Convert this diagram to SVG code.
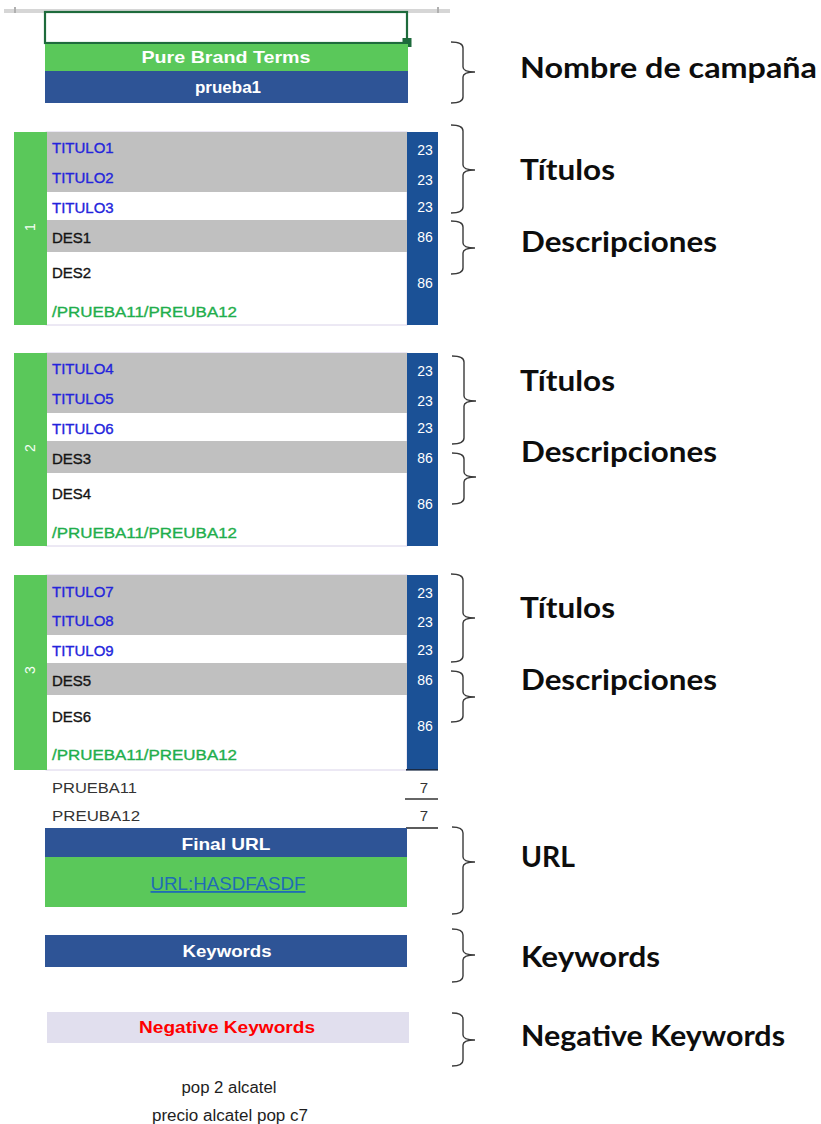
<svg xmlns="http://www.w3.org/2000/svg" width="821" height="1124" viewBox="0 0 821 1124">
  <style>
    .cell { font-family: "Liberation Sans", Arial, sans-serif; font-size: 15px; stroke-width: 0.35; }
    .title { fill: #2424dc; stroke: #2424dc; }
    .desc { fill: #141414; stroke: #141414; }
    .path { fill: #1fae4c; stroke: #1fae4c; }
    .num { font-family: "Liberation Sans", Arial, sans-serif; font-size: 14px; fill: #ffffff; text-anchor: middle; }
    .side { font-family: "Liberation Sans", Arial, sans-serif; font-size: 14px; fill: #f4fff4; text-anchor: middle; }
    .hdr { font-family: "Liberation Sans", Arial, sans-serif; font-weight: bold; font-size: 17px; fill: #ffffff; text-anchor: middle; }
    .label { font-family: Lato, "Open Sans", sans-serif; font-weight: 700; font-size: 29px; fill: #0d0d0d; }
    .brace { fill: none; stroke: #3a3a3a; stroke-width: 1.4; }
    .green { fill: #5ac85a; }
    .navy { fill: #2e5496; }
    .numcol { fill: #1b5196; }
    .grey { fill: #c0c0c0; }
    .plain { font-family: "Liberation Sans", Arial, sans-serif; font-size: 15px; fill: #333333; }
  </style>

  <rect width="821" height="1124" fill="#ffffff"/>

  <!-- sheet header strip with selected cell -->
  <g id="header-cell">
    <rect x="4" y="9" width="446" height="4" fill="#d6d6d6"/>
    <rect x="14" y="7" width="2" height="6" fill="#b0b0b0"/>
    <rect x="437" y="7" width="2" height="6" fill="#b0b0b0"/>
    <rect x="45" y="12" width="362" height="31" fill="#ffffff" stroke="#1e6b3c" stroke-width="2.2"/>
    <rect x="402.5" y="38" width="9" height="9" fill="#1e6b3c"/>
  </g>

  <!-- campaign name -->
  <g id="campaign">
    <rect x="45" y="44" width="363" height="27" class="green"/>
    <text x="226" y="63" class="hdr" textLength="169" lengthAdjust="spacingAndGlyphs">Pure Brand Terms</text>
    <rect x="45" y="71" width="363" height="32" class="navy"/>
    <text x="228" y="93" class="hdr" font-size="18">prueba1</text>
  </g>

  <!-- ad group 1 -->
  <g id="group-1">
    <rect x="46" y="132" width="361" height="193" fill="#ffffff" stroke="#d9d2e9" stroke-width="1"/>
    <rect x="46" y="132" width="361" height="60" class="grey"/>
    <rect x="46" y="220" width="362" height="32" class="grey"/>
    <rect x="14" y="132" width="33" height="193" class="green"/>
    <rect x="407" y="132" width="31" height="193" class="numcol"/>
    <text transform="translate(35,227) rotate(-90)" x="0" y="0" class="side">1</text>
    <text x="52" y="153" class="cell title">TITULO1</text>
    <text x="52" y="183" class="cell title">TITULO2</text>
    <text x="52" y="213" class="cell title">TITULO3</text>
    <text x="52" y="243" class="cell desc">DES1</text>
    <text x="52" y="278" class="cell desc">DES2</text>
    <text x="52" y="317" class="cell path" textLength="185" lengthAdjust="spacingAndGlyphs">/PRUEBA11/PREUBA12</text>
    <text x="425" y="155" class="num">23</text>
    <text x="425" y="185" class="num">23</text>
    <text x="425" y="212" class="num">23</text>
    <text x="425" y="242" class="num">86</text>
    <text x="425" y="288" class="num">86</text>
  </g>

  <!-- ad group 2 -->
  <g id="group-2" transform="translate(0,221)">
    <rect x="46" y="132" width="361" height="193" fill="#ffffff" stroke="#d9d2e9" stroke-width="1"/>
    <rect x="46" y="132" width="361" height="60" class="grey"/>
    <rect x="46" y="220" width="362" height="32" class="grey"/>
    <rect x="14" y="132" width="33" height="193" class="green"/>
    <rect x="407" y="132" width="31" height="193" class="numcol"/>
    <text transform="translate(35,227) rotate(-90)" x="0" y="0" class="side">2</text>
    <text x="52" y="153" class="cell title">TITULO4</text>
    <text x="52" y="183" class="cell title">TITULO5</text>
    <text x="52" y="213" class="cell title">TITULO6</text>
    <text x="52" y="243" class="cell desc">DES3</text>
    <text x="52" y="278" class="cell desc">DES4</text>
    <text x="52" y="317" class="cell path" textLength="185" lengthAdjust="spacingAndGlyphs">/PRUEBA11/PREUBA12</text>
    <text x="425" y="155" class="num">23</text>
    <text x="425" y="185" class="num">23</text>
    <text x="425" y="212" class="num">23</text>
    <text x="425" y="242" class="num">86</text>
    <text x="425" y="288" class="num">86</text>
  </g>

  <!-- ad group 3 -->
  <g id="group-3" transform="translate(0,443)">
    <rect x="46" y="132" width="361" height="195" fill="#ffffff" stroke="#d9d2e9" stroke-width="1"/>
    <rect x="46" y="132" width="361" height="60" class="grey"/>
    <rect x="46" y="220" width="362" height="32" class="grey"/>
    <rect x="14" y="132" width="33" height="195" class="green"/>
    <rect x="407" y="132" width="31" height="195" class="numcol"/>
    <rect x="406" y="326" width="32" height="1.6" fill="#1a2a44"/>
    <text transform="translate(35,227) rotate(-90)" x="0" y="0" class="side">3</text>
    <text x="52" y="154" class="cell title">TITULO7</text>
    <text x="52" y="183" class="cell title">TITULO8</text>
    <text x="52" y="213" class="cell title">TITULO9</text>
    <text x="52" y="243" class="cell desc">DES5</text>
    <text x="52" y="279" class="cell desc">DES6</text>
    <text x="52" y="317" class="cell path" textLength="185" lengthAdjust="spacingAndGlyphs">/PRUEBA11/PREUBA12</text>
    <text x="425" y="155" class="num">23</text>
    <text x="425" y="184" class="num">23</text>
    <text x="425" y="212" class="num">23</text>
    <text x="425" y="242" class="num">86</text>
    <text x="425" y="288" class="num">86</text>
  </g>

  <!-- path segment lengths -->
  <g id="path-lengths">
    <text x="52" y="793" class="plain" textLength="85" lengthAdjust="spacingAndGlyphs">PRUEBA11</text>
    <text x="52" y="821" class="plain" textLength="88" lengthAdjust="spacingAndGlyphs">PREUBA12</text>
    <text x="424" y="793" class="plain" fill="#222" text-anchor="middle" font-size="14">7</text>
    <text x="424" y="821" class="plain" fill="#222" text-anchor="middle" font-size="14">7</text>
    <line x1="405" y1="799" x2="438" y2="799" stroke="#333333" stroke-width="1.6"/>
    <line x1="406" y1="828" x2="438" y2="828" stroke="#333333" stroke-width="1.6"/>
  </g>

  <!-- final URL -->
  <g id="final-url">
    <rect x="45" y="828" width="362" height="29" class="navy"/>
    <text x="226" y="850" class="hdr" textLength="89" lengthAdjust="spacingAndGlyphs">Final URL</text>
    <rect x="45" y="857" width="362" height="50" class="green"/>
    <text x="228" y="890" font-family="'Liberation Sans', Arial, sans-serif" font-size="18" fill="#1f6cb5" text-anchor="middle" text-decoration="underline" textLength="155" lengthAdjust="spacingAndGlyphs">URL:HASDFASDF</text>
  </g>

  <!-- keywords -->
  <g id="keywords">
    <rect x="45" y="935" width="362" height="32" class="navy"/>
    <text x="227" y="957" class="hdr" textLength="89" lengthAdjust="spacingAndGlyphs">Keywords</text>
  </g>

  <!-- negative keywords -->
  <g id="negative-keywords">
    <rect x="47" y="1012" width="362" height="31" fill="#e1dfee"/>
    <text x="227" y="1033" class="hdr" style="fill:#ff0000" textLength="176" lengthAdjust="spacingAndGlyphs">Negative Keywords</text>
    <text x="229" y="1093" font-family="'Liberation Sans', Arial, sans-serif" font-size="16" fill="#1e1e1e" text-anchor="middle" textLength="95" lengthAdjust="spacingAndGlyphs">pop 2 alcatel</text>
    <text x="230" y="1121" font-family="'Liberation Sans', Arial, sans-serif" font-size="16" fill="#1e1e1e" text-anchor="middle" textLength="156" lengthAdjust="spacingAndGlyphs">precio alcatel pop c7</text>
  </g>

  <!-- braces linking each block to its description -->
  <g id="connectors">
    <path class="brace" d="M451,42 Q463,42 463,48 L463,67 Q463,72 475,72 Q463,72 463,77 L463,97 Q463,103 451,103"/>
    <path class="brace" d="M451,125 Q463,125 463,131 L463,165 Q463,170 475,170 Q463,170 463,175 L463,207 Q463,213 451,213"/>
    <path class="brace" d="M451,221 Q463,221 463,227 L463,243 Q463,248 475,248 Q463,248 463,253 L463,268 Q463,274 451,274"/>
    <path class="brace" d="M452,356 Q464,356 464,362 L464,396 Q464,401 476,401 Q464,401 464,406 L464,438 Q464,444 452,444"/>
    <path class="brace" d="M452,453 Q464,453 464,459 L464,472 Q464,477 476,477 Q464,477 464,482 L464,498 Q464,504 452,504"/>
    <path class="brace" d="M451,574 Q463,574 463,580 L463,613 Q463,618 475,618 Q463,618 463,623 L463,656 Q463,662 451,662"/>
    <path class="brace" d="M451,671 Q463,671 463,677 L463,692 Q463,697 475,697 Q463,697 463,702 L463,716 Q463,722 451,722"/>
    <path class="brace" d="M452,827 Q463,827 463,833 L463,857 Q463,862 475,862 Q463,862 463,867 L463,908 Q463,914 452,914"/>
    <path class="brace" d="M452,929 Q463,929 463,935 L463,950 Q463,955 475,955 Q463,955 463,960 L463,976 Q463,982 452,982"/>
    <path class="brace" d="M452,1013 Q463,1013 463,1019 L463,1035 Q463,1040 475,1040 Q463,1040 463,1045 L463,1060 Q463,1066 452,1066"/>
  </g>

  <!-- descriptions -->
  <g id="label-campaign"><text x="520" y="78" class="label" textLength="297" lengthAdjust="spacingAndGlyphs">Nombre de campaña</text></g>
  <g id="label-titles-1"><text x="520" y="180" class="label" textLength="95" lengthAdjust="spacingAndGlyphs">Títulos</text></g>
  <g id="label-desc-1"><text x="521" y="252" class="label" textLength="196" lengthAdjust="spacingAndGlyphs">Descripciones</text></g>
  <g id="label-titles-2"><text x="520" y="391" class="label" textLength="95" lengthAdjust="spacingAndGlyphs">Títulos</text></g>
  <g id="label-desc-2"><text x="521" y="462" class="label" textLength="196" lengthAdjust="spacingAndGlyphs">Descripciones</text></g>
  <g id="label-titles-3"><text x="520" y="618" class="label" textLength="95" lengthAdjust="spacingAndGlyphs">Títulos</text></g>
  <g id="label-desc-3"><text x="521" y="690" class="label" textLength="196" lengthAdjust="spacingAndGlyphs">Descripciones</text></g>
  <g id="label-url"><text x="521" y="867" class="label" textLength="54" lengthAdjust="spacingAndGlyphs">URL</text></g>
  <g id="label-keywords"><text x="521" y="967" class="label" textLength="139" lengthAdjust="spacingAndGlyphs">Keywords</text></g>
  <g id="label-negative"><text x="521" y="1046" class="label" textLength="264" lengthAdjust="spacingAndGlyphs">Negative Keywords</text></g>
</svg>
